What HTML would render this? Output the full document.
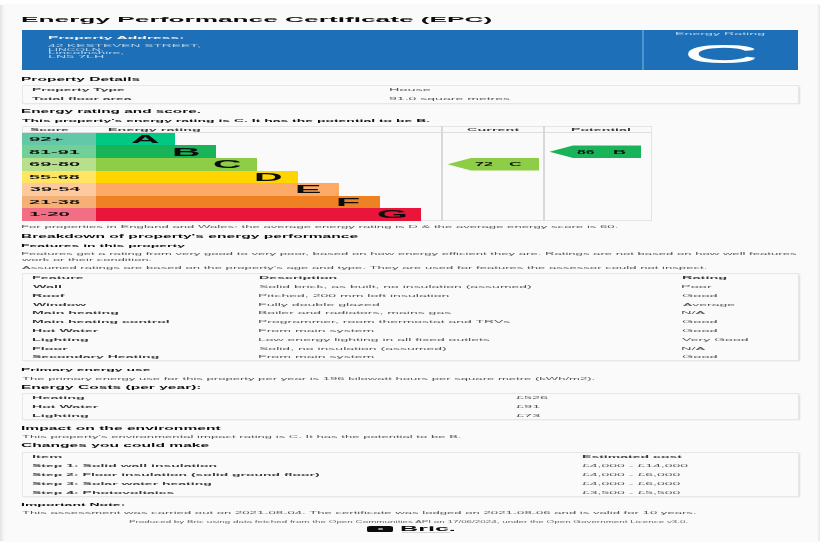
<!DOCTYPE html>
<html><head><meta charset="utf-8"><title>Energy Performance Certificate (EPC)</title>
<style>
html,body{margin:0;padding:0;background:#fff;}
body{width:820px;height:547px;position:relative;overflow:hidden;filter:blur(0.4px);font-family:"Liberation Sans",sans-serif;}
.t{position:absolute;white-space:nowrap;font-size:40px;line-height:40px;transform-origin:0 0;}
</style></head><body>
<div style="position:absolute;left:0.00px;top:5.30px;width:820.00px;height:536.00px;background:linear-gradient(to right,#e2e2e2 0px,#eeeeee 2px,#f7f7f7 4px,#fafafa 5.5px,#fafafa 816.5px,#f1f1f1 818.5px,#e3e3e3 820px);box-shadow:0 0 1px rgba(0,0,0,.14);"></div>
<span class="t" style="left:20.89px;top:15.52px;font-weight:bold;color:#0b0c0c;transform:scale(0.6564,0.1800);">Energy Performance Certificate (EPC)</span>
<div style="position:absolute;left:22.20px;top:29.60px;width:775.50px;height:40.80px;background:#1d70b8;"></div>
<div style="position:absolute;left:641.60px;top:29.60px;width:2.40px;height:40.80px;background:#5293cc;"></div>
<span class="t" style="left:47.58px;top:36.33px;font-weight:bold;color:rgba(255,255,255,.95);transform:scale(0.3927,0.1000);">Property Address:</span>
<span class="t" style="left:48.48px;top:43.84px;color:rgba(255,255,255,.68);transform:scale(0.3436,0.0775);">42 KESTEVEN STREET,</span>
<span class="t" style="left:47.78px;top:47.74px;color:rgba(255,255,255,.68);transform:scale(0.3023,0.0775);">LINCOLN,</span>
<span class="t" style="left:47.67px;top:51.44px;color:rgba(255,255,255,.68);transform:scale(0.3386,0.0775);">Lincolnshire,</span>
<span class="t" style="left:47.61px;top:55.14px;color:rgba(255,255,255,.68);transform:scale(0.3570,0.0775);">LN5 7LH</span>
<span class="t" style="left:674.86px;top:32.37px;color:rgba(255,255,255,.68);transform:scale(0.3554,0.0850);">Energy Rating</span>
<span class="t" id="bigC" style="left:682.6px;top:42.3px;color:#fff;text-shadow:0 1.6px 0 #fff;transform:scale(2.64,0.60);">C</span>
<span class="t" style="left:20.99px;top:76.66px;font-weight:bold;color:#0b0c0c;transform:scale(0.3883,0.1100);">Property Details</span>
<div style="position:absolute;left:22.00px;top:85.00px;width:777.00px;height:18.80px;background:#fafafa;border:1px solid #e7e7e7;box-sizing:border-box;box-shadow:1.5px 0.5px 1.5px rgba(0,0,0,.09);"></div>
<span class="t" style="left:31.59px;top:88.00px;font-weight:bold;color:#3a3a3a;transform:scale(0.3492,0.0950);">Property Type</span>
<span class="t" style="left:32.36px;top:96.75px;font-weight:bold;color:#3a3a3a;transform:scale(0.3479,0.0950);">Total floor area</span>
<span class="t" style="left:388.84px;top:88.00px;color:#555;transform:scale(0.3617,0.0950);">House</span>
<span class="t" style="left:389.37px;top:96.75px;color:#555;transform:scale(0.3515,0.0950);">91.0 square metres</span>
<span class="t" style="left:21.00px;top:109.16px;font-weight:bold;color:#0b0c0c;transform:scale(0.3838,0.1100);">Energy rating and score.</span>
<span class="t" style="left:21.86px;top:118.63px;font-weight:bold;color:#0b0c0c;transform:scale(0.3489,0.1000);">This property's energy rating is C. It has the potential to be B.</span>
<div style="position:absolute;left:22.00px;top:126.00px;width:630.00px;height:94.50px;border:1px solid #e4e4e4;box-sizing:border-box;background:#fafafa;"></div>
<div style="position:absolute;left:22.00px;top:132.20px;width:630.00px;height:0.80px;background:#ddd;"></div>
<div style="position:absolute;left:441.40px;top:126.00px;width:1.20px;height:94.50px;background:#d8d8d8;"></div>
<div style="position:absolute;left:543.40px;top:126.00px;width:1.20px;height:94.50px;background:#d8d8d8;"></div>
<span class="t" style="left:29.58px;top:128.35px;font-weight:bold;color:#3a3a3a;transform:scale(0.3499,0.0950);">Score</span>
<span class="t" style="left:108.06px;top:128.35px;font-weight:bold;color:#3a3a3a;transform:scale(0.3603,0.0950);">Energy rating</span>
<span class="t" style="left:466.92px;top:128.35px;font-weight:bold;color:#3a3a3a;transform:scale(0.3617,0.0950);">Current</span>
<span class="t" style="left:571.08px;top:128.35px;font-weight:bold;color:#3a3a3a;transform:scale(0.3545,0.0950);">Potential</span>
<div style="position:absolute;left:22.00px;top:132.80px;width:153.00px;height:12.40px;background:#00c781;"></div>
<div style="position:absolute;left:22.00px;top:132.80px;width:73.50px;height:12.40px;background:#63c8a7;"></div>
<span class="t" style="left:29.29px;top:136.27px;font-weight:bold;color:#111;transform:scale(0.5079,0.1450);">92+</span>
<span class="t" style="left:130.60px;top:134.10px;font-weight:bold;color:#0b0c0c;transform:scale(0.9900,0.2650);">A</span>
<div style="position:absolute;left:22.00px;top:145.20px;width:194.00px;height:12.50px;background:#19b459;"></div>
<div style="position:absolute;left:22.00px;top:145.20px;width:73.50px;height:12.50px;background:rgba(255,255,255,.38);"></div>
<span class="t" style="left:29.40px;top:148.77px;font-weight:bold;color:#111;transform:scale(0.4962,0.1450);">81-91</span>
<span class="t" style="left:171.60px;top:146.60px;font-weight:bold;color:#0b0c0c;transform:scale(0.9900,0.2650);">B</span>
<div style="position:absolute;left:22.00px;top:158.00px;width:235.00px;height:12.50px;background:#8dce46;"></div>
<div style="position:absolute;left:22.00px;top:158.00px;width:73.50px;height:12.50px;background:rgba(255,255,255,.38);"></div>
<span class="t" style="left:29.30px;top:161.27px;font-weight:bold;color:#111;transform:scale(0.5002,0.1450);">69-80</span>
<span class="t" style="left:212.60px;top:159.10px;font-weight:bold;color:#0b0c0c;transform:scale(0.9900,0.2650);">C</span>
<div style="position:absolute;left:22.00px;top:170.50px;width:276.00px;height:12.50px;background:#ffd500;"></div>
<div style="position:absolute;left:22.00px;top:170.50px;width:73.50px;height:12.50px;background:rgba(255,255,255,.38);"></div>
<span class="t" style="left:29.40px;top:173.77px;font-weight:bold;color:#111;transform:scale(0.4972,0.1450);">55-68</span>
<span class="t" style="left:253.60px;top:171.60px;font-weight:bold;color:#0b0c0c;transform:scale(0.9900,0.2650);">D</span>
<div style="position:absolute;left:22.00px;top:183.00px;width:317.00px;height:12.50px;background:#fcaa65;"></div>
<div style="position:absolute;left:22.00px;top:183.00px;width:73.50px;height:12.50px;background:rgba(255,255,255,.38);"></div>
<span class="t" style="left:29.51px;top:186.27px;font-weight:bold;color:#111;transform:scale(0.4913,0.1450);">39-54</span>
<span class="t" style="left:294.60px;top:184.10px;font-weight:bold;color:#0b0c0c;transform:scale(0.9900,0.2650);">E</span>
<div style="position:absolute;left:22.00px;top:195.50px;width:358.00px;height:12.50px;background:#ef8023;"></div>
<div style="position:absolute;left:22.00px;top:195.50px;width:73.50px;height:12.50px;background:rgba(255,255,255,.38);"></div>
<span class="t" style="left:29.30px;top:198.77px;font-weight:bold;color:#111;transform:scale(0.4982,0.1450);">21-38</span>
<span class="t" style="left:335.60px;top:196.60px;font-weight:bold;color:#0b0c0c;transform:scale(0.9900,0.2650);">F</span>
<div style="position:absolute;left:22.00px;top:208.00px;width:399.00px;height:12.50px;background:#e9153b;"></div>
<div style="position:absolute;left:22.00px;top:208.00px;width:73.50px;height:12.50px;background:rgba(255,255,255,.38);"></div>
<span class="t" style="left:28.77px;top:211.27px;font-weight:bold;color:#111;transform:scale(0.5109,0.1450);">1-20</span>
<span class="t" style="left:376.60px;top:209.10px;font-weight:bold;color:#0b0c0c;transform:scale(0.9900,0.2650);">G</span>
<svg style="position:absolute;left:0;top:0" width="820" height="547"><polygon points="447.5,164.2 471.0,158.0 539.0,158.0 539.0,170.5 471.0,170.5" fill="#8dce46"/></svg>
<svg style="position:absolute;left:0;top:0" width="820" height="547"><polygon points="549.5,151.8 573.0,145.5 641.0,145.5 641.0,158.0 573.0,158.0" fill="#19b459"/></svg>
<span class="t" style="left:474.86px;top:162.07px;font-weight:bold;color:#111;transform:scale(0.4005,0.1250);">72</span>
<span class="t" style="left:508.80px;top:162.07px;font-weight:bold;color:#111;transform:scale(0.4389,0.1250);">C</span>
<span class="t" style="left:577.03px;top:149.57px;font-weight:bold;color:#111;transform:scale(0.3947,0.1250);">86</span>
<span class="t" style="left:612.83px;top:149.57px;font-weight:bold;color:#111;transform:scale(0.4508,0.1250);">B</span>
<span class="t" style="left:20.95px;top:224.75px;color:#555;transform:scale(0.3291,0.0950);">For properties in England and Wales: the average energy rating is D &amp; the average energy score is 60.</span>
<span class="t" style="left:20.99px;top:233.91px;font-weight:bold;color:#0b0c0c;transform:scale(0.3896,0.1100);">Breakdown of property's energy performance</span>
<span class="t" style="left:21.09px;top:243.63px;font-weight:bold;color:#0b0c0c;transform:scale(0.3496,0.1000);">Features in this property</span>
<span class="t" style="left:20.95px;top:251.75px;color:#555;transform:scale(0.3279,0.0950);">Features get a rating from very good to very poor, based on how energy efficient they are. Ratings are not based on how well features</span>
<span class="t" style="left:22.00px;top:257.50px;color:#555;transform:scale(0.3235,0.0950);">work or their condition.</span>
<span class="t" style="left:22.00px;top:265.50px;color:#555;transform:scale(0.3282,0.0950);">Assumed ratings are based on the property's age and type. They are used for features the assessor could not inspect.</span>
<div style="position:absolute;left:22.00px;top:273.00px;width:777.00px;height:88.00px;background:#fafafa;border:1px solid #e7e7e7;box-sizing:border-box;box-shadow:1.5px 0.5px 1.5px rgba(0,0,0,.09);"></div>
<span class="t" style="left:31.57px;top:276.35px;font-weight:bold;color:#3a3a3a;transform:scale(0.3576,0.0950);">Feature</span>
<span class="t" style="left:258.58px;top:276.35px;font-weight:bold;color:#3a3a3a;transform:scale(0.3557,0.0950);">Description</span>
<span class="t" style="left:681.56px;top:276.35px;font-weight:bold;color:#3a3a3a;transform:scale(0.3628,0.0950);">Rating</span>
<span class="t" style="left:32.50px;top:285.13px;font-weight:bold;color:#3a3a3a;transform:scale(0.3597,0.0950);">Wall</span>
<span class="t" style="left:258.87px;top:285.13px;color:#555;transform:scale(0.3495,0.0950);">Solid brick, as built, no insulation (assumed)</span>
<span class="t" style="left:681.33px;top:285.13px;color:#555;transform:scale(0.3643,0.0950);">Poor</span>
<span class="t" style="left:31.57px;top:293.91px;font-weight:bold;color:#3a3a3a;transform:scale(0.3572,0.0950);">Roof</span>
<span class="t" style="left:258.38px;top:293.91px;color:#555;transform:scale(0.3513,0.0950);">Pitched, 200 mm loft insulation</span>
<span class="t" style="left:681.77px;top:293.91px;color:#555;transform:scale(0.3648,0.0950);">Good</span>
<span class="t" style="left:32.50px;top:302.69px;font-weight:bold;color:#3a3a3a;transform:scale(0.3473,0.0950);">Window</span>
<span class="t" style="left:258.37px;top:302.69px;color:#555;transform:scale(0.3535,0.0950);">Fully double glazed</span>
<span class="t" style="left:682.50px;top:302.69px;color:#555;transform:scale(0.3519,0.0950);">Average</span>
<span class="t" style="left:31.58px;top:311.47px;font-weight:bold;color:#3a3a3a;transform:scale(0.3551,0.0950);">Main heating</span>
<span class="t" style="left:258.38px;top:311.47px;color:#555;transform:scale(0.3504,0.0950);">Boiler and radiators, mains gas</span>
<span class="t" style="left:681.33px;top:311.47px;color:#555;transform:scale(0.3655,0.0950);">N/A</span>
<span class="t" style="left:31.58px;top:320.25px;font-weight:bold;color:#3a3a3a;transform:scale(0.3523,0.0950);">Main heating control</span>
<span class="t" style="left:258.38px;top:320.25px;color:#555;transform:scale(0.3498,0.0950);">Programmer, room thermostat and TRVs</span>
<span class="t" style="left:681.77px;top:320.25px;color:#555;transform:scale(0.3648,0.0950);">Good</span>
<span class="t" style="left:31.58px;top:329.03px;font-weight:bold;color:#3a3a3a;transform:scale(0.3535,0.0950);">Hot Water</span>
<span class="t" style="left:258.37px;top:329.03px;color:#555;transform:scale(0.3537,0.0950);">From main system</span>
<span class="t" style="left:681.77px;top:329.03px;color:#555;transform:scale(0.3648,0.0950);">Good</span>
<span class="t" style="left:31.56px;top:337.81px;font-weight:bold;color:#3a3a3a;transform:scale(0.3596,0.0950);">Lighting</span>
<span class="t" style="left:258.38px;top:337.81px;color:#555;transform:scale(0.3499,0.0950);">Low energy lighting in all fixed outlets</span>
<span class="t" style="left:682.43px;top:337.81px;color:#555;transform:scale(0.3527,0.0950);">Very Good</span>
<span class="t" style="left:31.57px;top:346.59px;font-weight:bold;color:#3a3a3a;transform:scale(0.3589,0.0950);">Floor</span>
<span class="t" style="left:258.87px;top:346.59px;color:#555;transform:scale(0.3503,0.0950);">Solid, no insulation (assumed)</span>
<span class="t" style="left:681.33px;top:346.59px;color:#555;transform:scale(0.3655,0.0950);">N/A</span>
<span class="t" style="left:32.08px;top:355.37px;font-weight:bold;color:#3a3a3a;transform:scale(0.3511,0.0950);">Secondary Heating</span>
<span class="t" style="left:258.37px;top:355.37px;color:#555;transform:scale(0.3537,0.0950);">From main system</span>
<span class="t" style="left:681.77px;top:355.37px;color:#555;transform:scale(0.3648,0.0950);">Good</span>
<span class="t" style="left:21.09px;top:367.83px;font-weight:bold;color:#0b0c0c;transform:scale(0.3486,0.1000);">Primary energy use</span>
<span class="t" style="left:21.74px;top:376.65px;color:#555;transform:scale(0.3268,0.0950);">The primary energy use for this property per year is 196 kilowatt hours per square metre (kWh/m2).</span>
<span class="t" style="left:20.99px;top:385.21px;font-weight:bold;color:#0b0c0c;transform:scale(0.3886,0.1100);">Energy Costs (per year):</span>
<div style="position:absolute;left:22.00px;top:393.00px;width:777.00px;height:26.50px;background:#fafafa;border:1px solid #e7e7e7;box-sizing:border-box;box-shadow:1.5px 0.5px 1.5px rgba(0,0,0,.09);"></div>
<span class="t" style="left:31.56px;top:396.35px;font-weight:bold;color:#3a3a3a;transform:scale(0.3605,0.0950);">Heating</span>
<span class="t" style="left:515.57px;top:396.35px;color:#555;transform:scale(0.3587,0.0950);">£526</span>
<span class="t" style="left:31.58px;top:405.10px;font-weight:bold;color:#3a3a3a;transform:scale(0.3535,0.0950);">Hot Water</span>
<span class="t" style="left:515.56px;top:405.10px;color:#555;transform:scale(0.3647,0.0950);">£91</span>
<span class="t" style="left:31.56px;top:413.85px;font-weight:bold;color:#3a3a3a;transform:scale(0.3596,0.0950);">Lighting</span>
<span class="t" style="left:515.56px;top:413.85px;color:#555;transform:scale(0.3635,0.0950);">£73</span>
<span class="t" style="left:20.98px;top:425.91px;font-weight:bold;color:#0b0c0c;transform:scale(0.3907,0.1100);">Impact on the environment</span>
<span class="t" style="left:21.74px;top:434.75px;color:#555;transform:scale(0.3276,0.0950);">This property's environmental impact rating is C. It has the potential to be B.</span>
<span class="t" style="left:21.38px;top:443.41px;font-weight:bold;color:#0b0c0c;transform:scale(0.3901,0.1100);">Changes you could make</span>
<div style="position:absolute;left:22.00px;top:452.00px;width:777.00px;height:44.50px;background:#fafafa;border:1px solid #e7e7e7;box-sizing:border-box;box-shadow:1.5px 0.5px 1.5px rgba(0,0,0,.09);"></div>
<span class="t" style="left:31.54px;top:455.45px;font-weight:bold;color:#3a3a3a;transform:scale(0.3702,0.0950);">Item</span>
<span class="t" style="left:581.59px;top:455.45px;font-weight:bold;color:#3a3a3a;transform:scale(0.3514,0.0950);">Estimated cost</span>
<span class="t" style="left:32.08px;top:464.25px;font-weight:bold;color:#3a3a3a;transform:scale(0.3499,0.0950);">Step 1: Solid wall insulation</span>
<span class="t" style="left:582.08px;top:464.25px;color:#555;transform:scale(0.3506,0.0950);">£4,000 - £14,000</span>
<span class="t" style="left:32.08px;top:473.05px;font-weight:bold;color:#3a3a3a;transform:scale(0.3489,0.0950);">Step 2: Floor insulation (solid ground floor)</span>
<span class="t" style="left:582.08px;top:473.05px;color:#555;transform:scale(0.3508,0.0950);">£4,000 - £6,000</span>
<span class="t" style="left:32.08px;top:481.85px;font-weight:bold;color:#3a3a3a;transform:scale(0.3501,0.0950);">Step 3: Solar water heating</span>
<span class="t" style="left:582.08px;top:481.85px;color:#555;transform:scale(0.3508,0.0950);">£4,000 - £6,000</span>
<span class="t" style="left:32.08px;top:490.65px;font-weight:bold;color:#3a3a3a;transform:scale(0.3499,0.0950);">Step 4: Photovoltaics</span>
<span class="t" style="left:582.08px;top:490.65px;color:#555;transform:scale(0.3508,0.0950);">£3,500 - £5,500</span>
<span class="t" style="left:21.09px;top:502.88px;font-weight:bold;color:#0b0c0c;transform:scale(0.3503,0.1000);">Important Note:</span>
<span class="t" style="left:21.74px;top:510.85px;color:#555;transform:scale(0.3281,0.0950);">This assessment was carried out on 2021-08-04. The certificate was lodged on 2021-08-06 and is valid for 10 years.</span>
<span class="t" style="left:129.21px;top:519.59px;color:#666;transform:scale(0.2461,0.0800);">Produced by Bric using data fetched from the Open Communities API on 17/06/2024, under the Open Government Licence v3.0.</span>
<div style="position:absolute;left:367.30px;top:526.20px;width:25.30px;height:6.00px;background:#0b0c0c;border-radius:3px/1.5px;"></div>
<div style="position:absolute;left:378.00px;top:528.00px;width:5.00px;height:1.70px;background:#999;border-radius:1px;"></div>
<span class="t" style="left:399.87px;top:525.44px;font-weight:bold;color:#0b0c0c;transform:scale(0.6280,0.1625);">Bric.</span>
<div style="position:absolute;left:402.00px;top:532.30px;width:48.00px;height:0.50px;background:#d4d4d4;"></div>
</body></html>
